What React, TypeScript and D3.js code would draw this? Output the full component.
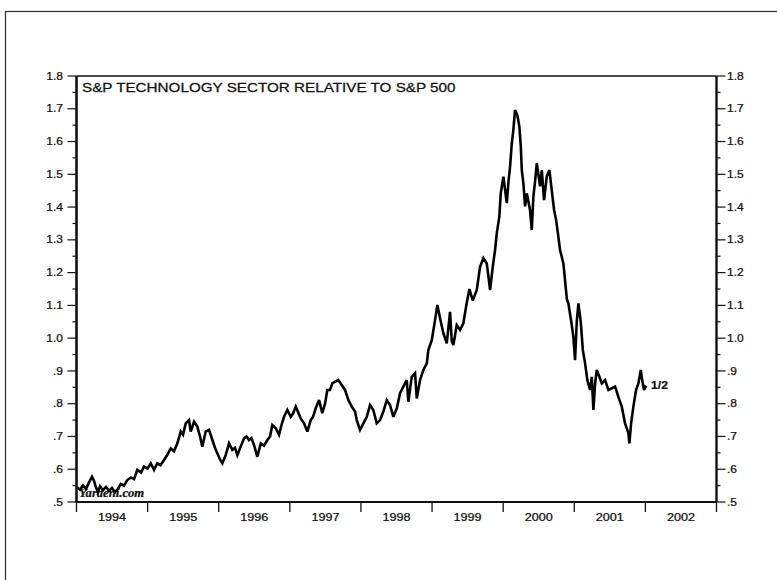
import React from 'react';
import * as d3 from 'd3';

// decimal years
const dates = [
  1994.007, 1994.049, 1994.091, 1994.134, 1994.176, 1994.218, 1994.246, 1994.274, 1994.302, 1994.331,
  1994.373, 1994.415, 1994.457, 1994.499, 1994.541, 1994.584, 1994.622, 1994.668, 1994.714, 1994.767,
  1994.809, 1994.855, 1994.907, 1994.949, 1994.999, 1995.044, 1995.090, 1995.136, 1995.181, 1995.231,
  1995.280, 1995.325, 1995.371, 1995.418, 1995.466, 1995.498, 1995.536, 1995.582, 1995.606, 1995.653,
  1995.699, 1995.737, 1995.769, 1995.817, 1995.864, 1995.910, 1995.948, 1995.980, 1996.018, 1996.051,
  1996.098, 1996.145, 1996.191, 1996.229, 1996.262, 1996.309, 1996.356, 1996.391, 1996.426, 1996.461,
  1996.496, 1996.543, 1996.591, 1996.637, 1996.684, 1996.722, 1996.754, 1996.802, 1996.848, 1996.883,
  1996.918, 1996.965, 1997.013, 1997.045, 1997.083, 1997.115, 1997.153, 1997.200, 1997.246, 1997.294,
  1997.326, 1997.364, 1997.411, 1997.457, 1997.495, 1997.527, 1997.565, 1997.598, 1997.636, 1997.682,
  1997.730, 1997.776, 1997.823, 1997.871, 1997.917, 1997.941, 1997.987, 1998.034, 1998.082, 1998.128,
  1998.174, 1998.222, 1998.269, 1998.315, 1998.363, 1998.409, 1998.456, 1998.504, 1998.550, 1998.596,
  1998.644, 1998.667, 1998.714, 1998.761, 1998.785, 1998.831, 1998.878, 1998.926, 1998.948, 1998.996,
  1999.042, 1999.075, 1999.113, 1999.159, 1999.207, 1999.253, 1999.277, 1999.300, 1999.347, 1999.394,
  1999.440, 1999.478, 1999.525, 1999.572, 1999.629, 1999.675, 1999.722, 1999.769, 1999.792, 1999.816,
  1999.854, 1999.886, 1999.910, 1999.946, 1999.966, 2000.003, 2000.051, 2000.073, 2000.097, 2000.121,
  2000.143, 2000.167, 2000.200, 2000.228, 2000.248, 2000.262, 2000.284, 2000.308, 2000.332, 2000.378,
  2000.402, 2000.425, 2000.449, 2000.473, 2000.519, 2000.543, 2000.575, 2000.613, 2000.650, 2000.683,
  2000.716, 2000.744, 2000.776, 2000.800, 2000.847, 2000.895, 2000.917, 2000.965, 2000.987, 2001.011,
  2001.035, 2001.058, 2001.091, 2001.120, 2001.152, 2001.184, 2001.222, 2001.246, 2001.269, 2001.293,
  2001.316, 2001.353, 2001.387, 2001.433, 2001.480, 2001.527, 2001.574, 2001.620, 2001.668, 2001.714,
  2001.761, 2001.775, 2001.799, 2001.831, 2001.869, 2001.902, 2001.935, 2001.949, 2001.963, 2001.982,
  2002.010,
];

// S&P technology sector relative to S&P 500
const ratio = [
  0.545, 0.538, 0.550, 0.540, 0.560, 0.577, 0.565, 0.545, 0.530, 0.548,
  0.536, 0.546, 0.534, 0.543, 0.530, 0.540, 0.555, 0.550, 0.567, 0.575,
  0.570, 0.598, 0.590, 0.608, 0.602, 0.618, 0.598, 0.618, 0.612, 0.628,
  0.645, 0.664, 0.655, 0.679, 0.715, 0.705, 0.740, 0.750, 0.715, 0.745,
  0.730, 0.700, 0.669, 0.715, 0.720, 0.690, 0.665, 0.649, 0.630, 0.618,
  0.643, 0.679, 0.659, 0.665, 0.643, 0.669, 0.694, 0.700, 0.689, 0.695,
  0.674, 0.638, 0.679, 0.672, 0.689, 0.700, 0.735, 0.725, 0.705, 0.735,
  0.760, 0.781, 0.760, 0.770, 0.791, 0.775, 0.755, 0.740, 0.715, 0.750,
  0.760, 0.786, 0.811, 0.771, 0.800, 0.842, 0.842, 0.862, 0.867, 0.872,
  0.857, 0.842, 0.811, 0.791, 0.776, 0.750, 0.720, 0.740, 0.760, 0.796,
  0.781, 0.740, 0.750, 0.776, 0.811, 0.796, 0.760, 0.786, 0.832, 0.852,
  0.872, 0.806, 0.882, 0.893, 0.816, 0.872, 0.903, 0.923, 0.964, 0.994,
  1.055, 1.101, 1.060, 1.015, 0.984, 1.080, 0.990, 0.979, 1.040, 1.025,
  1.045, 1.096, 1.150, 1.115, 1.147, 1.218, 1.244, 1.228, 1.190, 1.147,
  1.218, 1.269, 1.320, 1.371, 1.442, 1.493, 1.412, 1.473, 1.523, 1.594,
  1.635, 1.696, 1.680, 1.645, 1.584, 1.513, 1.473, 1.402, 1.442, 1.391,
  1.330, 1.432, 1.479, 1.534, 1.463, 1.513, 1.421, 1.493, 1.513, 1.452,
  1.391, 1.361, 1.310, 1.269, 1.228, 1.120, 1.106, 1.040, 1.004, 0.933,
  1.050, 1.106, 1.050, 0.964, 0.923, 0.872, 0.842, 0.882, 0.781, 0.862,
  0.903, 0.882, 0.862, 0.872, 0.842, 0.847, 0.852, 0.821, 0.791, 0.740,
  0.710, 0.679, 0.740, 0.791, 0.842, 0.862, 0.903, 0.880, 0.862, 0.842,
  0.855,
];

const yTickValues = [0.5, 0.6, 0.7, 0.8, 0.9, 1.0, 1.1, 1.2, 1.3, 1.4, 1.5, 1.6, 1.7, 1.8];
const yTickLabels = ['.5', '.6', '.7', '.8', '.9', '1.0', '1.1', '1.2', '1.3', '1.4', '1.5', '1.6', '1.7', '1.8'];
const yMinorValues = [0.55, 0.65, 0.75, 0.85, 0.95, 1.05, 1.15, 1.25, 1.35, 1.45, 1.55, 1.65, 1.75];
const yearTicks = [1994, 1995, 1996, 1997, 1998, 1999, 2000, 2001, 2002, 2003];
const yearLabels = ['1994', '1995', '1996', '1997', '1998', '1999', '2000', '2001', '2002'];
const title = 'S&P TECHNOLOGY SECTOR RELATIVE TO S&P 500';
const lastLabel = '1/2';
const watermark = 'Yardeni.com';

const FONT = "'Liberation Sans', Arial, Helvetica, sans-serif";

function T({ x, y, sx = 1.2, size = 10, anchor = 'start', children, weight = 'normal', family = FONT, style = 'normal' }: any) {
  return (
    <text
      transform={`translate(${x},${y}) scale(${sx},1)`}
      textAnchor={anchor}
      dominantBaseline="central"
      fontSize={size}
      fontFamily={family}
      fontWeight={weight}
      fontStyle={style}
      fill="#111"
      stroke="#111"
      strokeWidth={0.25}
    >
      {children}
    </text>
  );
}

export default function App() {
  const W = 777;
  const H = 580;
  const left = 76.5;
  const right = 716.5;
  const top = 76;
  const bottom = 502;

  const x = d3.scaleLinear().domain([1994, 2003]).range([left, right]);
  const y = d3.scaleLinear().domain([0.5, 1.8]).range([bottom, top]);
  const line = d3
    .line<number>()
    .x((_, i) => x(dates[i]))
    .y((d) => y(d));

  const lastX = x(dates[dates.length - 1]);
  const lastY = y(ratio[ratio.length - 1]);

  return (
    <svg
      width={W}
      height={H}
      style={{ position: 'absolute', left: 0, top: 0, background: '#fff' }}
    >
      <rect x={0} y={0} width={W} height={H} fill="#fff" />
      {/* outer frame */}
      <rect x={5.5} y={11.5} width={W + 20} height={H + 20} fill="none" stroke="#333" strokeWidth={1.3} />

      {/* watermark */}
      <T x={79} y={493} size={11.5} sx={1.1} family="'Liberation Serif', 'Times New Roman', serif" weight="bold" style="italic">
        {watermark}
      </T>

      {/* title */}
      <T x={82} y={88} size={12} sx={1.27}>
        {title}
      </T>

      {/* y ticks both sides */}
      {yTickValues.map((v, i) => (
        <g key={'yt' + i}>
          <line x1={left - 9} x2={left} y1={y(v)} y2={y(v)} stroke="#111" strokeWidth={1.2} />
          <line x1={right} x2={right + 9} y1={y(v)} y2={y(v)} stroke="#111" strokeWidth={1.2} />
          <T x={63} y={y(v)} size={10} sx={1.2} anchor="end">
            {yTickLabels[i]}
          </T>
          <T x={727} y={y(v)} size={10} sx={1.2}>
            {yTickLabels[i]}
          </T>
        </g>
      ))}
      {yMinorValues.map((v, i) => (
        <g key={'ym' + i}>
          <line x1={left - 4} x2={left} y1={y(v)} y2={y(v)} stroke="#111" strokeWidth={1.2} />
          <line x1={right} x2={right + 4} y1={y(v)} y2={y(v)} stroke="#111" strokeWidth={1.2} />
        </g>
      ))}

      {/* x ticks */}
      {yearTicks.map((t, i) => (
        <line key={'xt' + i} x1={x(t)} x2={x(t)} y1={bottom} y2={bottom + 10} stroke="#111" strokeWidth={1.3} />
      ))}
      {yearLabels.map((lab, i) => (
        <T key={'xl' + i} x={(x(yearTicks[i]) + x(yearTicks[i + 1])) / 2} y={517} size={10.5} sx={1.2} anchor="middle">
          {lab}
        </T>
      ))}

      {/* plot frame */}
      <line x1={left} x2={right} y1={top} y2={top} stroke="#111" strokeWidth={1.5} />
      <line x1={left} x2={right} y1={bottom} y2={bottom} stroke="#111" strokeWidth={2.2} />
      <line x1={left} x2={left} y1={top} y2={bottom} stroke="#111" strokeWidth={2.6} />
      <line x1={right} x2={right} y1={top} y2={bottom} stroke="#111" strokeWidth={2.4} />

      {/* series */}
      <path d={line(ratio) || ''} fill="none" stroke="#000" strokeWidth={2.6} strokeLinejoin="miter" strokeMiterlimit={3} />

      <T x={lastX + 5} y={lastY} size={10.5} sx={1.15} weight="bold">
        {lastLabel}
      </T>
    </svg>
  );
}
